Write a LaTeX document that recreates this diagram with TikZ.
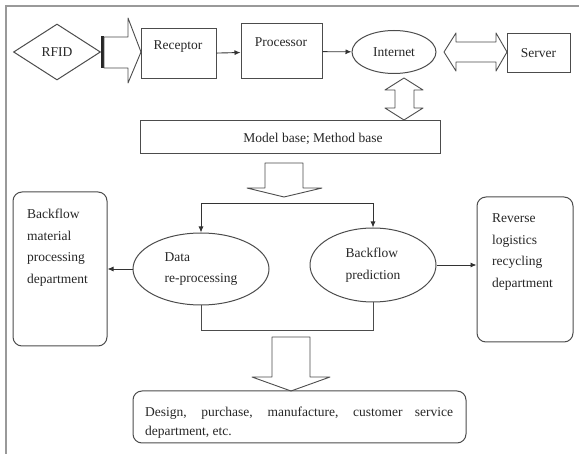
\documentclass[tikz,border=0pt]{standalone}
\usepackage{fontspec}
\setmainfont{Liberation Serif}
\usetikzlibrary{shapes.geometric,arrows.meta}

\begin{document}
\begin{tikzpicture}[x=1pt,y=-1pt,
  every node/.style={font=\fontsize{13.5}{21.5}\selectfont, text=black!85},
  box/.style={draw=black!70, line width=1pt, inner sep=0pt},
  rbox/.style={box, rounded corners=9pt},
  oval/.style={ellipse, draw=black!70, line width=1pt, inner sep=0pt, align=left},
  hollow/.style={draw=black!70, line width=0.9pt, fill=white, line join=round},
  arr/.style={draw=black!80, line width=0.9pt, -{Latex[length=6pt,width=5pt]}}]

\useasboundingbox (0,0) rectangle (579,454);
\draw[gray!80, line width=2pt] (6,454) -- (6,6) -- (579,6);

% top row
\node[diamond, draw=black!70, line width=1pt, aspect=1.55, minimum width=87pt, minimum height=56pt, inner sep=0pt] (rfid) at (57,52) {RFID};
\node[box, minimum width=75pt, minimum height=50pt] (rec) at (178.5,54) {};
\node (rectxt) at (178,47) {Receptor};
\node[box, minimum width=81pt, minimum height=55pt] (proc) at (281.5,51.5) {};
\node (proctxt) at (281,42) {Processor};
\node[oval, minimum width=84pt, minimum height=43pt] (net) at (394,52) {Internet};
\node[box, minimum width=63pt, minimum height=39pt] (srv) at (538.5,53.5) {Server};

\fill[black!85] (101,36) rectangle (104,68);
\draw[hollow] (104,37) -- (128,37) -- (128,18) -- (141,52) -- (128,83) -- (128,68) -- (104,68) -- cycle;
\draw[arr] (rec) -- (proc);
\draw[arr] (proc) -- (net);
\draw[hollow] (444,52) -- (456,33) -- (456,42) -- (496,42) -- (496,33) -- (507,52) -- (496,71) -- (496,62) -- (456,62) -- (456,71) -- cycle;
\draw[hollow] (404,78) -- (423,90) -- (414,90) -- (414,108) -- (423,108) -- (404,120) -- (385,108) -- (395,108) -- (395,90) -- (385,90) -- cycle;

% model base
\node[box, minimum width=300pt, minimum height=33pt] (model) at (290,137.5) {};
\node (modeltxt) at (313,139) {Model base; Method base};
\draw[hollow] (265,163) -- (303,163) -- (303,188) -- (322,188) -- (284,197) -- (247,188) -- (265,188) -- cycle;

% middle row
\node[oval, minimum width=136pt, minimum height=72pt] (data) at (201,269) {Data\\re-processing};
\node[oval, minimum width=126pt, minimum height=74pt] (pred) at (373,265) {Backflow\\prediction};
\coordinate (fork) at (290,203);
\draw[arr] (fork) -| (data.north);
\draw[arr] (fork) -| (pred.north);

\node[rbox, minimum width=94pt, minimum height=154pt] (left) at (60,269) {};
\node[anchor=north west, inner sep=0pt, align=left] (lefttxt) at (27,209) {Backflow\\material\\processing\\department};
\node[rbox, minimum width=96pt, minimum height=145pt] (right) at (525,269.5) {};
\node[anchor=north west, inner sep=0pt, align=left] (righttxt) at (492,213.5) {Reverse\\logistics\\recycling\\department};

\draw[arr] (data.west) -- (data.west -| left.east);
\draw[arr] (pred.east) -- (pred.east -| right.west);
\draw[draw=black!70, line width=1pt] (data.south) -- ++(0,25) -| (pred.south);

% bottom
\draw[hollow] (272,337) -- (310,337) -- (310,377) -- (330,377) -- (291,391) -- (252,377) -- (272,377) -- cycle;
\node[rbox, minimum width=333pt, minimum height=52pt] (dept) at (299.5,417) {};
\node[anchor=north west, inner sep=0pt, text width=308pt, align=justify, font=\fontsize{13.5}{18.5}\selectfont] (depttxt) at (145,407) {Design, purchase, manufacture, customer service \mbox{department}, etc.};

\end{tikzpicture}
\end{document}
